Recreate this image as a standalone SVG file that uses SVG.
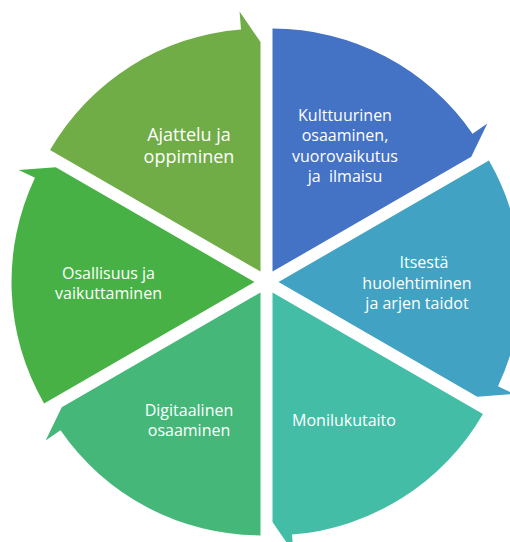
<svg xmlns="http://www.w3.org/2000/svg" width="510" height="542" viewBox="0 0 510 542">
<style>
.lbl{font-family:"Open Sans","Noto Sans",sans-serif;font-size:16px;fill:#ffffff;text-anchor:middle}
.big{font-size:18px}
</style>
<rect width="510" height="542" fill="#ffffff"/>
<g id="connectors"></g>
<g id="n1">
<path fill="#4472C4" d="M272.5,271.61 L272.5,28.61 A243,243 0 0 1 472.51,133.63 L487.33,123.41 L471.25,156.86 Z"/>
<text class="lbl" x="345" y="120.5">Kulttuurinen</text>
<text class="lbl" x="345" y="141">osaaminen,</text>
<text class="lbl" x="345" y="161.5">vuorovaikutus</text>
<text class="lbl" x="345" y="182" xml:space="preserve">ja  ilmaisu</text>
</g>
<g id="n2">
<path fill="#42A2C3" d="M278.5,282 L488.94,160.5 A243,243 0 0 1 498.0,386.22 L514.26,393.94 L477.25,396.75 Z"/>
<text class="lbl" x="424" y="268">Itsestä</text>
<text class="lbl" x="417" y="288.5">huolehtiminen</text>
<text class="lbl" x="417" y="309">ja arjen taidot</text>
</g>
<g id="n3">
<path fill="#44BDA7" d="M272.5,292.39 L482.94,413.89 A243,243 0 0 1 291.99,534.61 L293.43,552.56 L272.5,521.89 Z"/>
<text class="lbl" x="344" y="426">Monilukutaito</text>
</g>
<g id="n4">
<path fill="#45B879" d="M260.5,292.39 L260.5,535.39 A243,243 0 0 1 60.49,430.37 L45.67,440.59 L61.75,407.14 Z"/>
<text class="lbl" x="189" y="416">Digitaalinen</text>
<text class="lbl" x="189" y="436">osaaminen</text>
</g>
<g id="n5">
<path fill="#47B145" d="M254.5,282 L44.06,403.5 A243,243 0 0 1 35.0,177.78 L18.74,170.06 L55.75,167.25 Z"/>
<text class="lbl" x="108.5" y="278.5">Osallisuus ja</text>
<text class="lbl" x="108.5" y="298.5">vaikuttaminen</text>
</g>
<g id="n6">
<path fill="#70AD47" d="M260.5,271.61 L50.06,150.11 A243,243 0 0 1 241.01,29.39 L239.57,11.45 L260.5,42.11 Z"/>
<text class="lbl big" x="189" y="140.5">Ajattelu ja</text>
<text class="lbl big" x="189" y="163">oppiminen</text>
</g>
</svg>
